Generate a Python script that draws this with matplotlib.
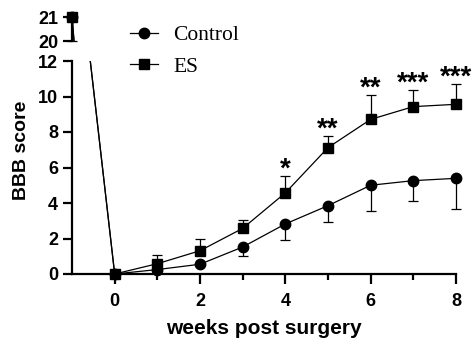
import matplotlib
matplotlib.use("Agg")
import matplotlib.pyplot as plt
from matplotlib.lines import Line2D
from matplotlib.ticker import FixedLocator

weeks = [-1, 0, 1, 2, 3, 4, 5, 6, 7, 8]
control = [21, 0, 0.25, 0.55, 1.52, 2.82, 3.85, 5.0, 5.26, 5.39]
control_err = [0, 0, 0, 0, 0.5, 0.9, 0.9, 1.45, 1.13, 1.73]
es = [21, 0, 0.58, 1.31, 2.57, 4.57, 7.12, 8.71, 9.43, 9.56]
es_err = [1, 0, 0.5, 0.68, 0.47, 0.96, 0.67, 1.37, 0.94, 1.14]
stars = {4: "*", 5: "**", 6: "**", 7: "***", 8: "***"}

sans = "Liberation Sans"
W, H = 475, 344
fig = plt.figure(figsize=(W / 100, H / 100), dpi=100)

x0, x1 = 72, 456
ax = fig.add_axes([x0 / W, (H - 274) / H, (x1 - x0) / W, 213 / H])
ax_top = fig.add_axes([x0 / W, (H - 41) / H, (x1 - x0) / W, 24 / H], sharex=ax)


def draw(a, lo, hi):
    for ys, err, mk, ms, down in ((control, control_err, "o", 7.5, True),
                                  (es, es_err, "s", 7, False)):
        a.plot(weeks, ys, color="black", lw=0.9, zorder=2)
        pts = [(w, y, e) for w, y, e in zip(weeks, ys, err) if lo <= y <= hi]
        px = [p[0] for p in pts]
        py = [p[1] for p in pts]
        a.plot(px, py, ls="none", marker=mk, ms=ms, color="black", clip_on=False, zorder=3)
        for w, y, e in pts:
            if e == 0:
                continue
            goes_down = down or w == -1
            yerr = [[e], [0]] if goes_down else [[0], [e]]
            a.errorbar([w], [y], yerr=yerr, fmt="none", ecolor="black", elinewidth=0.9,
                       capsize=3.5, capthick=0.9, clip_on=False)


draw(ax, 0, 12)
draw(ax_top, 20, 21)

for a in (ax, ax_top):
    for s in ("top", "right"):
        a.spines[s].set_visible(False)
    a.spines["left"].set_linewidth(1.6)
    a.spines["bottom"].set_linewidth(1.6)
    a.tick_params(axis="y", length=6.5, width=1.6, pad=3.5, labelsize=13)

ax.set_xlim(-1, 8)
ax.set_ylim(0, 12)
ax.set_yticks([0, 2, 4, 6, 8, 10, 12])
ax.set_xticks([0, 2, 4, 6, 8])
ax.xaxis.set_minor_locator(FixedLocator([1, 3, 5, 7]))
ax.tick_params(axis="x", which="major", length=7, width=1.6, pad=7, labelsize=13)
ax.tick_params(axis="x", which="minor", length=4.5, width=1.6)
ax.set_xlabel("weeks post surgery", fontsize=15, fontweight="bold", family=sans, labelpad=6)

ax_top.set_ylim(20, 21)
ax_top.set_yticks([20, 21])
ax_top.spines["bottom"].set_visible(False)
ax_top.tick_params(axis="x", which="both", bottom=False, labelbottom=False)

for a in (ax, ax_top):
    for lab in a.get_xticklabels() + a.get_yticklabels():
        lab.set_fontweight("bold")
        lab.set_family(sans)

for w, s in stars.items():
    i = weeks.index(w)
    ax.annotate(s, (w, es[i] + es_err[i]), xytext=(0, -5), textcoords="offset points",
                ha="center", va="bottom", fontsize=20, fontweight="bold", family=sans,
                annotation_clip=False)

fig.text(22 / W, 1 - 150 / H, "BBB score", rotation=90, ha="center", va="center",
         fontsize=14, fontweight="bold", family=sans)

handles = [Line2D([], [], color="black", lw=0.9, marker="o", ms=7.5),
           Line2D([], [], color="black", lw=0.9, marker="s", ms=7)]
fig.legend(handles, ["Control", "ES"], loc="upper left",
           bbox_to_anchor=(130 / W, 1 - 25 / H), frameon=False,
           prop={"family": "Liberation Serif", "size": 15.5},
           handlelength=1.3, handletextpad=0.7, labelspacing=0.55,
           borderpad=0, borderaxespad=0)

fig.savefig("out.png", dpi=100)
